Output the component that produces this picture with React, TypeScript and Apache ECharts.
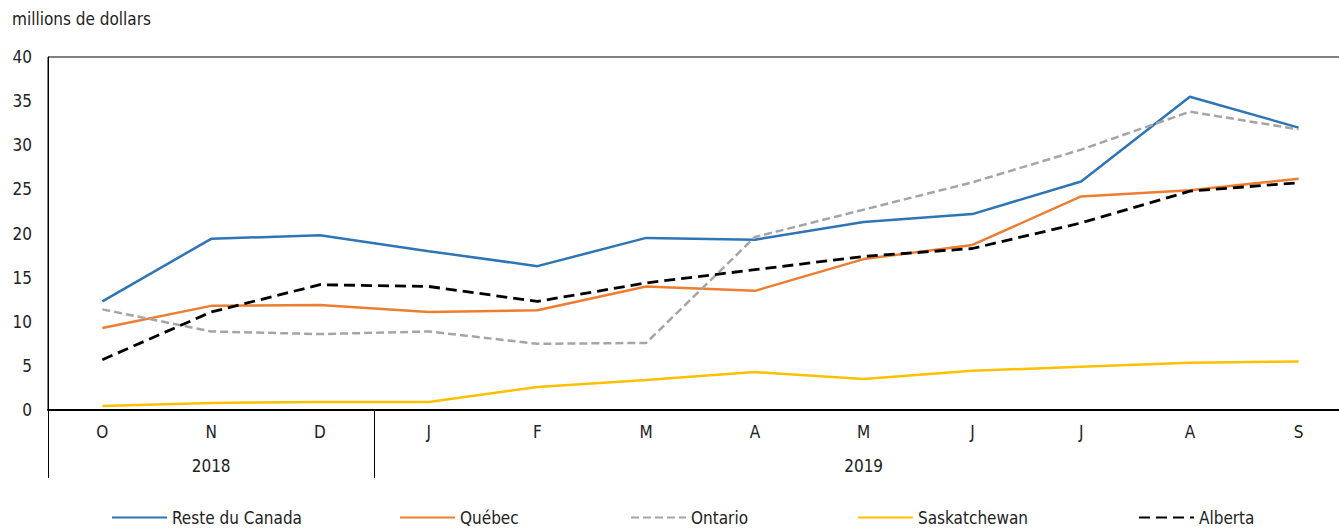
import React, { useEffect, useRef } from "react";
import * as echarts from "echarts";

const months = ["O", "N", "D", "J", "F", "M", "A", "M", "J", "J", "A", "S"];
const yearLabels = ["", "2018", "", "", "", "", "", "2019", "", "", "", ""];

const resteDuCanada = [12.3, 19.4, 19.8, 18.0, 16.3, 19.5, 19.3, 21.3, 22.2, 25.9, 35.5, 32.0];
const quebec = [9.3, 11.8, 11.9, 11.1, 11.3, 14.0, 13.5, 17.1, 18.7, 24.2, 24.9, 26.2];
const ontario = [11.4, 8.9, 8.6, 8.9, 7.5, 7.6, 19.6, 22.7, 25.8, 29.5, 33.8, 31.8];
const saskatchewan = [0.45, 0.8, 0.9, 0.9, 2.6, 3.4, 4.3, 3.5, 4.45, 4.9, 5.35, 5.5];
const alberta = [5.7, 11.1, 14.2, 14.0, 12.3, 14.4, 15.9, 17.4, 18.3, 21.2, 24.8, 25.75];

const FONT = "'Liberation Sans Narrow', 'DejaVu Sans Condensed', 'Roboto', sans-serif";

const seriesDefs = [
  { name: "Reste du Canada", data: resteDuCanada, color: "#2E75B6", type: "solid", width: 2.5, legendLeft: 111 },
  { name: "Québec", data: quebec, color: "#ED7D31", type: "solid", width: 2.5, legendLeft: 399 },
  { name: "Ontario", data: ontario, color: "#A5A5A5", type: [8, 4], width: 2.5, legendLeft: 630 },
  { name: "Saskatchewan", data: saskatchewan, color: "#FFC000", type: "solid", width: 2.5, legendLeft: 857 },
  { name: "Alberta", data: alberta, color: "#000000", type: [11, 6], width: 2.8, legendLeft: 1138 },
];

export default function App() {
  const ref = useRef<HTMLDivElement>(null);
  useEffect(() => {
    if (!ref.current) return;
    const chart = echarts.init(ref.current, null, { renderer: "svg" });
    chart.setOption({
      animation: false,
      textStyle: { fontFamily: FONT },
      title: {
        text: "millions de dollars",
        left: 12,
        top: 10,
        padding: 0,
        textStyle: { fontFamily: FONT, fontSize: 17, fontWeight: "normal", color: "#222" },
      },
      grid: {
        left: 48,
        right: -14,
        top: 57,
        bottom: 121,
        outerBoundsMode: "none",
        containLabel: false,
        show: true,
        borderColor: "#000",
        borderWidth: 1,
      },
      legend: seriesDefs.map((s) => ({
        data: [s.name],
        left: s.legendLeft,
        top: 509,
        padding: 0,
        itemWidth: 55,
        itemHeight: 14,
        itemStyle: { opacity: 0 },
        textStyle: { fontFamily: FONT, fontSize: 17, color: "#222" },
      })),
      xAxis: [
        {
          type: "category",
          data: months,
          boundaryGap: true,
          position: "bottom",
          axisLine: { lineStyle: { color: "#000", width: 2 } },
          axisTick: {
            show: true,
            interval: (i: number) => i === 0 || i === 3,
            length: 68,
            lineStyle: { color: "#000", width: 1 },
          },
          axisLabel: { interval: 0, margin: 13, fontSize: 17, color: "#222", fontFamily: FONT },
          splitLine: { show: false },
        },
        {
          type: "category",
          data: yearLabels,
          boundaryGap: true,
          position: "bottom",
          axisLine: { show: false },
          axisTick: { show: false },
          axisLabel: { interval: 0, margin: 47, fontSize: 17, color: "#222", fontFamily: FONT },
          splitLine: { show: false },
        },
      ],
      yAxis: {
        type: "value",
        min: 0,
        max: 40,
        interval: 5,
        axisLine: { show: true, lineStyle: { color: "#000", width: 1 } },
        axisTick: { show: false },
        splitLine: { show: false },
        axisLabel: { margin: 16, fontSize: 17, color: "#222", fontFamily: FONT },
      },
      series: seriesDefs.map((s) => ({
        name: s.name,
        type: "line",
        xAxisIndex: 0,
        data: s.data,
        symbol: "none",
        color: s.color,
        lineStyle: { color: s.color, width: s.width, type: s.type },
      })),
    });
    return () => chart.dispose();
  }, []);
  return (
    <div
      ref={ref}
      style={{ position: "fixed", left: 0, top: 0, width: 1339, height: 531, background: "#fff" }}
    />
  );
}
